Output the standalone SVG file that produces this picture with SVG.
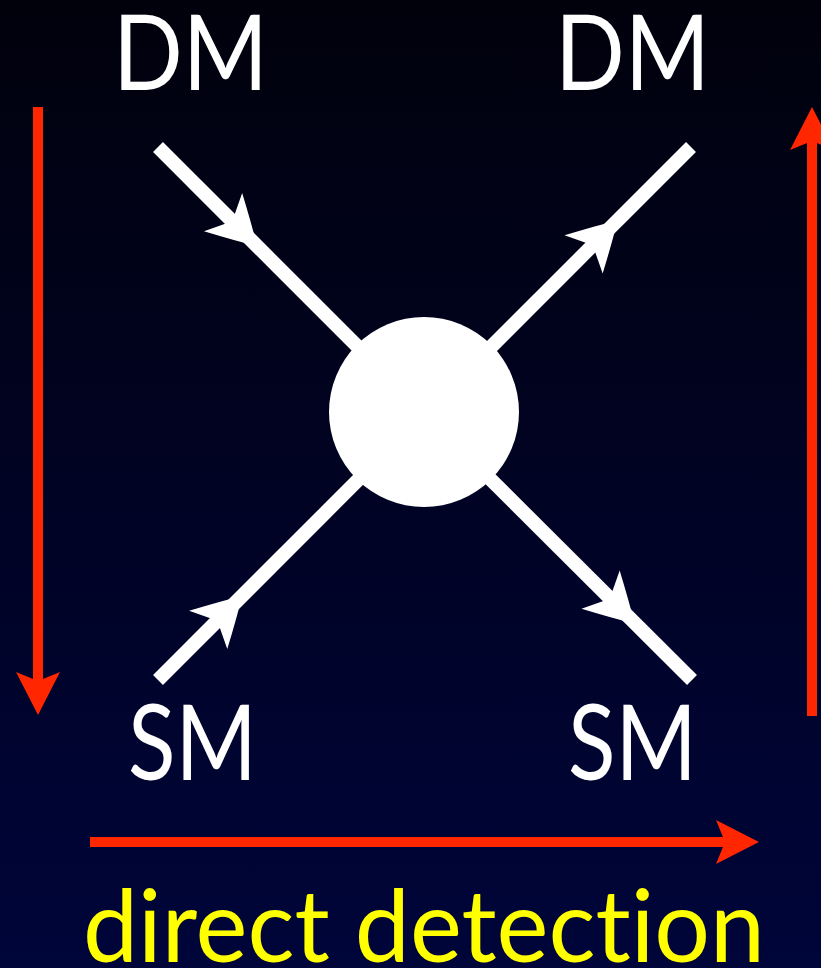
<svg xmlns="http://www.w3.org/2000/svg" xmlns:xlink="http://www.w3.org/1999/xlink" width="821" height="968" viewBox="0 0 821 968">
  <defs>
    <linearGradient id="bg" x1="0" y1="0" x2="0" y2="1">
      <stop offset="0" stop-color="#01010c"/>
      <stop offset="1" stop-color="#00053a"/>
    </linearGradient>
    <path id="wh" d="M2,0 Q-16,-11 -46,-27 L-33,0 L-46,27 Q-16,11 2,0 Z" fill="#ffffff"/>
    <path id="rh" d="M0,0 L-43,-22 L-34,0 L-43,22 Z" fill="#ff2600"/>
  </defs>
  <style>
    .lbl { font-family: "Lato", "Open Sans", "Liberation Sans", sans-serif; font-size: 104px; fill: #ffffff; font-variant-ligatures: none; }
    .cap { font-family: "Lato", "Open Sans", "Liberation Sans", sans-serif; font-size: 100px; fill: #ffff00; font-variant-ligatures: none; font-feature-settings: "liga" 0, "clig" 0; }
    .wl { stroke: #ffffff; stroke-width: 14; fill: none; }
    .rl { stroke: #ff2600; stroke-width: 10; fill: none; }
  </style>
  <rect x="0" y="0" width="821" height="968" fill="url(#bg)"/>

  <g id="connectors">
    <line class="wl" x1="158" y1="147" x2="424.5" y2="413.5"/>
    <line class="wl" x1="691" y1="147" x2="424.5" y2="413.5"/>
    <line class="wl" x1="158" y1="680" x2="424.5" y2="413.5"/>
    <line class="wl" x1="692" y1="680" x2="424.5" y2="413.5"/>
    <use xlink:href="#wh" transform="translate(255.6,244.6) rotate(45)"/>
    <use xlink:href="#wh" transform="translate(616.1,221.9) rotate(-45)"/>
    <use xlink:href="#wh" transform="translate(240.7,597.3) rotate(-45)"/>
    <use xlink:href="#wh" transform="translate(633.1,622.1) rotate(45)"/>
  </g>

  <g id="vertex">
    <circle cx="424" cy="412" r="95" fill="#ffffff"/>
  </g>

  <g id="time-arrows">
    <line class="rl" x1="38" y1="107" x2="38" y2="684"/>
    <use xlink:href="#rh" transform="translate(38,715) rotate(90)"/>
    <line class="rl" x1="812" y1="716" x2="812" y2="138"/>
    <use xlink:href="#rh" transform="translate(812,107) rotate(-90)"/>
    <line class="rl" x1="90" y1="842" x2="727" y2="842"/>
    <use xlink:href="#rh" transform="translate(759,842)"/>
  </g>

  <g id="dm-in"><text class="lbl" x="113" y="90" textLength="155" lengthAdjust="spacingAndGlyphs">DM</text></g>
  <g id="dm-out"><text class="lbl" x="555" y="90" textLength="155" lengthAdjust="spacingAndGlyphs">DM</text></g>
  <g id="sm-in"><text class="lbl" x="128" y="780" textLength="129" lengthAdjust="spacingAndGlyphs">SM</text></g>
  <g id="sm-out"><text class="lbl" x="568" y="780" textLength="129" lengthAdjust="spacingAndGlyphs">SM</text></g>
  <g id="caption"><text class="cap" x="83" y="962" textLength="682" lengthAdjust="spacingAndGlyphs">direct detection</text></g>
</svg>
